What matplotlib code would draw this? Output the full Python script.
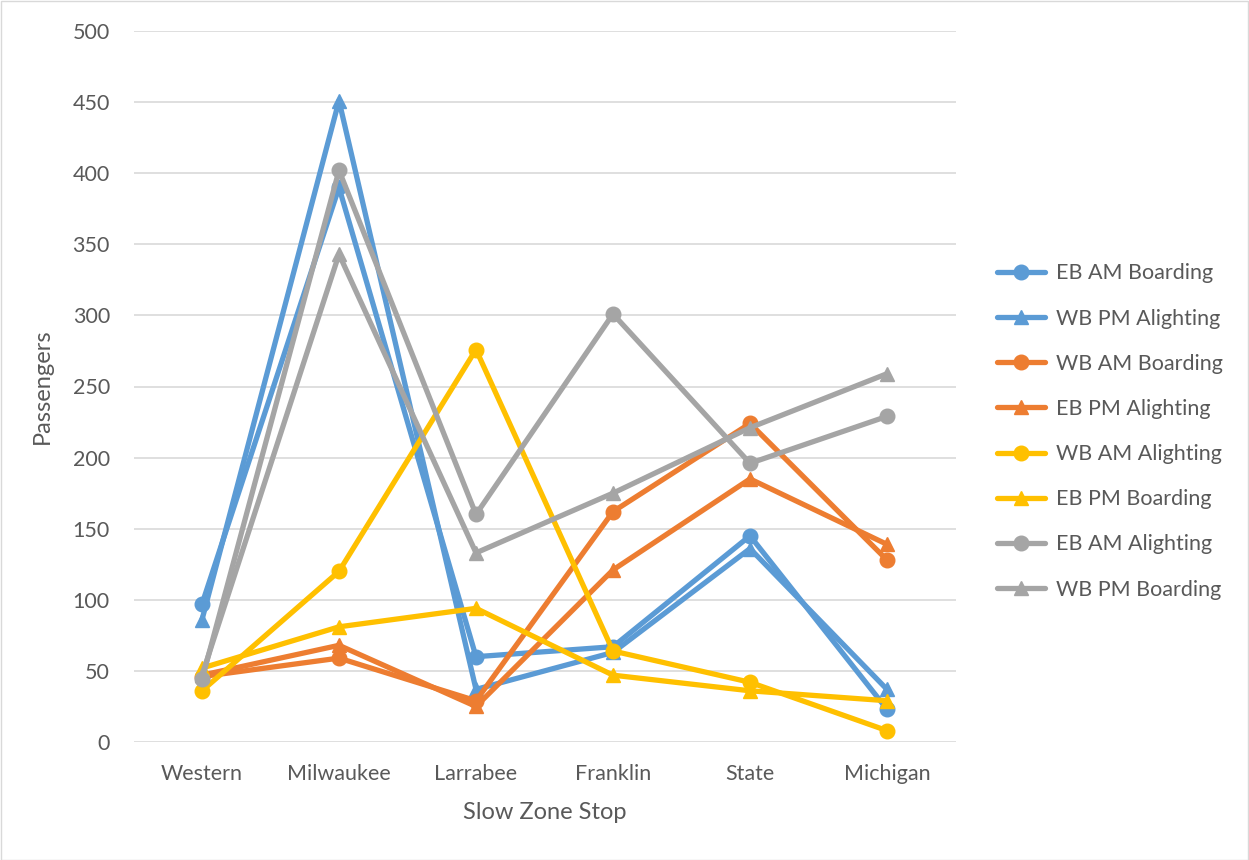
import matplotlib.pyplot as plt
from matplotlib.patches import Rectangle

plt.rcParams['font.family'] = ['Lato', 'DejaVu Sans']

stops = ['Western', 'Milwaukee', 'Larrabee', 'Franklin', 'State', 'Michigan']

eb_am_boarding = [97, 390, 60, 67, 145, 23]
wb_pm_alighting = [86, 451, 37, 63, 136, 37]
wb_am_boarding = [46, 59, 29, 162, 224, 128]
eb_pm_alighting = [47, 68, 25, 121, 185, 139]
wb_am_alighting = [36, 120, 276, 64, 42, 8]
eb_pm_boarding = [52, 81, 94, 47, 36, 29]
eb_am_alighting = [44, 402, 160, 301, 196, 229]
wb_pm_boarding = [47, 343, 133, 175, 221, 259]

series = [
    ('EB AM Boarding', eb_am_boarding, '#5B9BD5', 'o'),
    ('WB PM Alighting', wb_pm_alighting, '#5B9BD5', '^'),
    ('WB AM Boarding', wb_am_boarding, '#ED7D31', 'o'),
    ('EB PM Alighting', eb_pm_alighting, '#ED7D31', '^'),
    ('WB AM Alighting', wb_am_alighting, '#FFC000', 'o'),
    ('EB PM Boarding', eb_pm_boarding, '#FFC000', '^'),
    ('EB AM Alighting', eb_am_alighting, '#A5A5A5', 'o'),
    ('WB PM Boarding', wb_pm_boarding, '#A5A5A5', '^'),
]

fig = plt.figure(figsize=(12.49, 8.60), dpi=100)
ax = fig.add_axes([133.5 / 1249, 1 - 742 / 860, 822 / 1249, 711 / 860])

x = list(range(len(stops)))
for name, vals, color, marker in series:
    ax.plot(x, vals, color=color, marker=marker, lw=3.8, ms=10.5,
            label=name, solid_joinstyle='round', solid_capstyle='round')

ax.set_xlim(-0.5, 5.5)
ax.set_ylim(0, 500)
ax.set_yticks(range(0, 501, 50))
ax.set_xticks(x)
ax.set_xticklabels(stops)
ax.grid(axis='y', color='#D9D9D9', lw=1.2)
ax.set_axisbelow(True)
for s in ax.spines.values():
    s.set_visible(False)
ax.tick_params(length=0, labelsize=15.5, colors='#595959')
ax.tick_params(axis='x', pad=16)
ax.tick_params(axis='y', pad=17)
ax.set_xlabel('Slow Zone Stop', fontsize=17, color='#595959', labelpad=13)
ax.set_ylabel('Passengers', fontsize=17, color='#595959', labelpad=14)

ax.legend(loc='upper left', bbox_to_anchor=(978 / 1249, 1 - 244 / 860),
          bbox_transform=fig.transFigure, frameon=False, fontsize=15.5,
          labelcolor='#595959', handlelength=2.23, labelspacing=1.17,
          handletextpad=0.47)

fig.patches.append(Rectangle((0.5 / 1249, 0.5 / 860), 1 - 1.5 / 1249, 1 - 1.5 / 860,
                             transform=fig.transFigure, fill=False,
                             edgecolor='#D9D9D9', lw=1))

fig.savefig('out.png', dpi=100)
